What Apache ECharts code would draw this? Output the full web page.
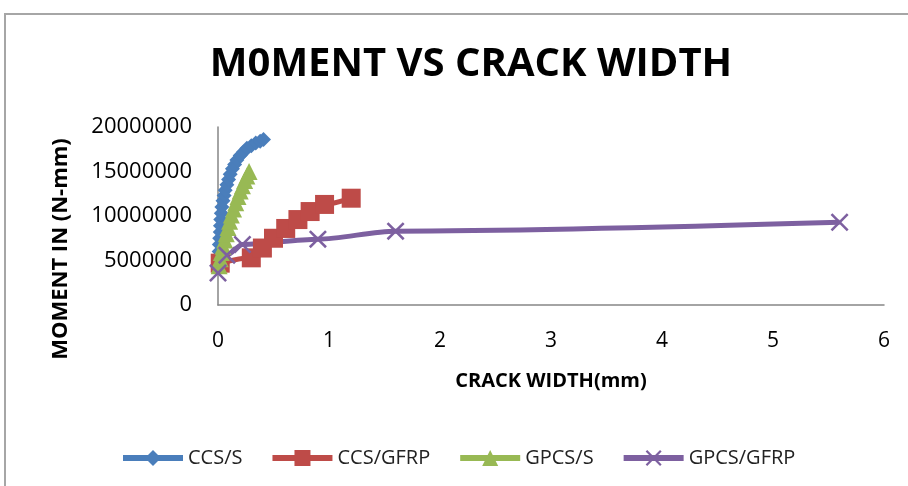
<!DOCTYPE html>
<html>
<head>
<meta charset="utf-8">
<title>Moment vs crack width</title>
<script src="https://cdn.jsdelivr.net/npm/echarts@6/dist/echarts.min.js"></script>
<style>
  html, body { margin: 0; padding: 0; background: #fff; }
  #chart { width: 908px; height: 486px; }
</style>
</head>
<body>
<div id="chart"></div>
<script>
  'use strict';

  // crack width (mm), moment (N-mm)
  var ccsS = [
    [0.005, 5300000], [0.01, 6000000], [0.012, 6800000], [0.015, 7500000],
    [0.02, 8200000], [0.022, 8900000], [0.025, 9600000], [0.03, 10300000],
    [0.035, 11000000], [0.045, 11700000], [0.055, 12300000], [0.065, 12900000],
    [0.08, 13500000], [0.095, 14100000], [0.11, 14700000], [0.13, 15300000],
    [0.15, 15800000], [0.17, 16300000], [0.2, 16800000], [0.23, 17200000],
    [0.26, 17600000], [0.3, 17900000], [0.34, 18200000], [0.38, 18400000],
    [0.41, 18600000]
  ];
  var ccsGfrp = [
    [0.02, 4700000], [0.3, 5300000], [0.4, 6400000], [0.5, 7500000],
    [0.61, 8600000], [0.72, 9600000], [0.83, 10500000], [0.96, 11300000],
    [1.2, 12000000]
  ];
  var gpcsS = [
    [0.01, 4400000], [0.02, 5200000], [0.03, 5900000], [0.045, 6600000],
    [0.06, 7300000], [0.075, 8000000], [0.09, 8700000], [0.105, 9400000],
    [0.12, 10100000], [0.14, 10800000], [0.16, 11500000], [0.18, 12200000],
    [0.2, 12800000], [0.22, 13400000], [0.24, 14000000], [0.26, 14500000],
    [0.28, 15000000]
  ];
  var gpcsGfrp = [
    [0.0, 3600000], [0.08, 5600000], [0.22, 6800000], [0.9, 7400000],
    [1.6, 8300000], [5.6, 9300000]
  ];
  var seriesNames = ['CCS/S', 'CCS/GFRP', 'GPCS/S', 'GPCS/GFRP'];
  var xTicks = { min: 0, max: 6, step: 1 };
  var yTicks = { min: 0, max: 20000000, step: 5000000 };

  var FONT = '"Open Sans", "Liberation Sans", sans-serif';
  var xMark = 'path://M0,1L1,0L5,4L9,0L10,1L6,5L10,9L9,10L5,6L1,10L0,9L4,5Z';

  function makeSeries(name, data, color, symbol, size) {
    return {
      name: name,
      type: 'line',
      data: data,
      smooth: 0.3,
      smoothMonotone: 'x',
      symbol: symbol,
      symbolSize: size,
      showAllSymbol: true,
      lineStyle: { color: color, width: 5 },
      itemStyle: { color: color },
      emphasis: { disabled: true },
      animation: false
    };
  }

  var chart = echarts.init(document.getElementById('chart'), null, { renderer: 'canvas' });

  var option = {
    backgroundColor: '#ffffff',
    title: {
      text: 'M0MENT VS CRACK WIDTH',
      left: 466,
      top: 40,
      textAlign: 'center',
      textStyle: { fontFamily: FONT, fontSize: 40, fontWeight: 'bold', color: '#000' }
    },
    legend: {
      data: seriesNames,
      left: 115,
      top: 443,
      itemWidth: 60,
      itemHeight: 20,
      itemGap: 27,
      lineStyle: { width: 6 },
      textStyle: { fontFamily: FONT, fontSize: 20, color: '#222' }
    },
    grid: { left: 218, right: 24, top: 127, bottom: 181, containLabel: false },
    xAxis: {
      type: 'value',
      min: xTicks.min,
      max: xTicks.max,
      interval: xTicks.step,
      name: 'CRACK WIDTH(mm)',
      nameLocation: 'middle',
      nameGap: 66,
      nameTextStyle: { fontFamily: FONT, fontSize: 20, fontWeight: 'bold', color: '#000' },
      axisLine: { show: true, lineStyle: { color: '#868686', width: 1.5 } },
      axisTick: { show: false },
      splitLine: { show: false },
      axisLabel: { margin: 26, fontFamily: FONT, fontSize: 21, color: '#000' }
    },
    yAxis: {
      type: 'value',
      min: yTicks.min,
      max: yTicks.max,
      interval: yTicks.step,
      axisLine: { show: true, lineStyle: { color: '#868686', width: 1.5 } },
      axisTick: { show: false },
      splitLine: { show: false },
      axisLabel: {
        margin: 26, fontFamily: FONT, fontSize: 22, color: '#000',
        formatter: function(v) { return String(v); }
      }
    },
    graphic: [
      {
        type: 'rect',
        shape: { x: 5, y: 14, width: 960, height: 520 },
        style: { fill: null, stroke: '#a6a6a6', lineWidth: 2 },
        silent: true
      },
      {
        type: 'text',
        x: 61,
        y: 249,
        rotation: Math.PI / 2,
        style: {
          text: 'MOMENT IN (N-mm)',
          fontFamily: FONT,
          fontSize: 22,
          fontWeight: 'bold',
          fill: '#000',
          align: 'center',
          verticalAlign: 'middle'
        },
        silent: true
      }
    ],
    series: [
      makeSeries(seriesNames[0], ccsS, '#4a7ebb', 'diamond', 15),
      makeSeries(seriesNames[1], ccsGfrp, '#be4b48', 'rect', 19),
      makeSeries(seriesNames[2], gpcsS, '#98b954', 'triangle', 17),
      makeSeries(seriesNames[3], gpcsGfrp, '#7d60a0', xMark, 18)
    ]
  };

  chart.setOption(option);
</script>
</body>
</html>
